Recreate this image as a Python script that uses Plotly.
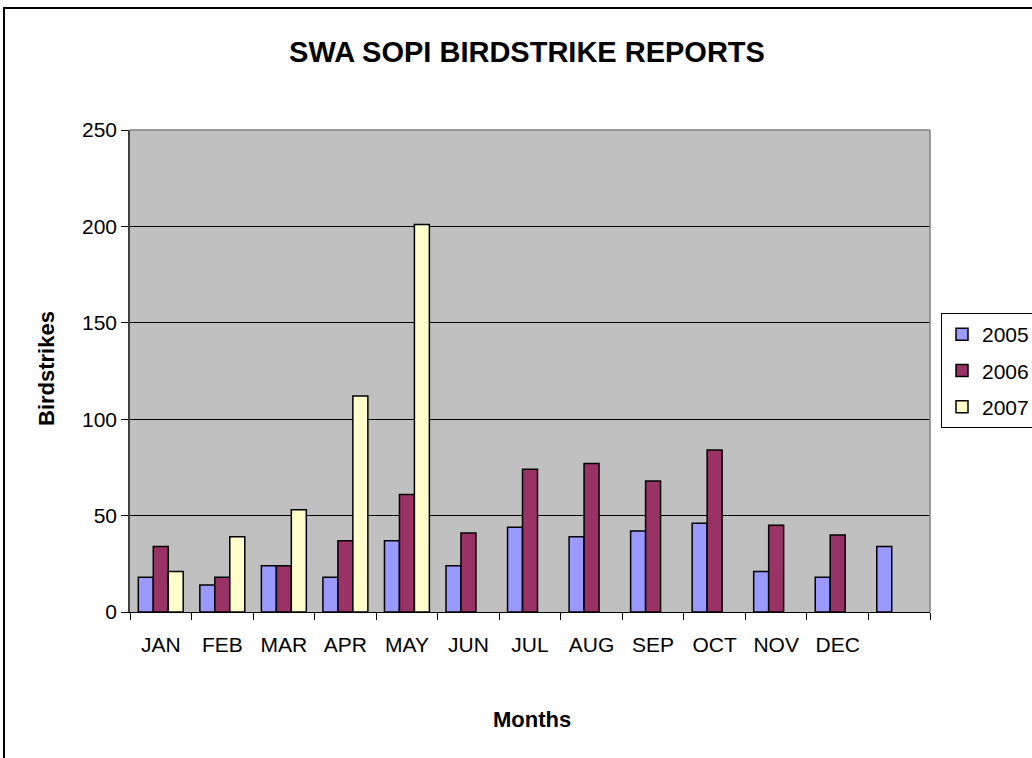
import plotly.graph_objects as go

months = ["JAN", "FEB", "MAR", "APR", "MAY", "JUN", "JUL", "AUG", "SEP", "OCT", "NOV", "DEC", " "]
y2005 = [18, 14, 24, 18, 37, 24, 44, 39, 42, 46, 21, 18, 34]
y2006 = [34, 18, 24, 37, 61, 41, 74, 77, 68, 84, 45, 40, None]
y2007 = [21, 39, 53, 112, 201, None, None, None, None, None, None, None, None]
series_names = ["2005", "2006", "2007"]
series_colors = ["#9999FF", "#993366", "#FFFFCC"]

FONT = "Liberation Sans, Arial, sans-serif"

fig = go.Figure()
for name, vals, col in zip(series_names, [y2005, y2006, y2007], series_colors):
    fig.add_trace(go.Bar(
        x=months, y=vals, name=name, legendgroup=name,
        marker=dict(color=col, line=dict(color="black", width=1.5)),
    ))

L, R, T, B = 130, 102, 130, 146
W, H = 1032, 758
pw, ph = W - L - R, H - T - B

def px(x):
    return (x - L) / pw

def py(y):
    return (H - B - y) / ph

fig.update_layout(
    width=W, height=H,
    margin=dict(l=L, r=R, t=T, b=B, autoexpand=False),
    paper_bgcolor="white",
    plot_bgcolor="#C0C0C0",
    barmode="group",
    bargap=0.27,
    bargroupgap=0,
    font=dict(family=FONT, size=21, color="black"),
    title=dict(text="<b>SWA SOPI BIRDSTRIKE REPORTS</b>", x=px(527), xref="paper",
               xanchor="center", y=1 - 52 / H, yref="container", yanchor="middle",
               font=dict(family=FONT, size=29, color="black")),
    legend=dict(x=px(941), y=py(313), xanchor="left", yanchor="top",
                bgcolor="white", bordercolor="black", borderwidth=1,
                font=dict(family=FONT, size=21), tracegroupgap=6,
                itemwidth=30),
    showlegend=True,
)

fig.update_xaxes(
    type="category", showline=True, linecolor="black", linewidth=1,
    ticks="outside", tickson="boundaries", ticklen=7, tickcolor="black",
    tickfont=dict(family=FONT, size=21), ticklabelstandoff=14,
    showgrid=False,
)
fig.update_yaxes(
    range=[0, 250], dtick=50, showline=True, linecolor="#404040", linewidth=1.5,
    ticks="outside", ticklen=7, tickcolor="black",
    tickfont=dict(family=FONT, size=21),
    showgrid=True, gridcolor="black", gridwidth=1, zeroline=False,
)

# plot area border (top and right) in grey
fig.add_shape(type="line", xref="paper", yref="paper", x0=0, x1=1, y0=1, y1=1,
              line=dict(color="#808080", width=1.5))
fig.add_shape(type="line", xref="paper", yref="paper", x0=1, x1=1, y0=0, y1=1,
              line=dict(color="#808080", width=1.5))
# outer chart frame
fig.add_shape(type="rect", xref="paper", yref="paper",
              x0=px(4), x1=px(1100), y0=py(800), y1=py(8),
              line=dict(color="black", width=2), layer="below")

fig.add_annotation(text="<b>Birdstrikes</b>", xref="paper", yref="paper",
                   x=px(46), y=py(369), textangle=-90, showarrow=False,
                   xanchor="center", yanchor="middle",
                   font=dict(family=FONT, size=22))
fig.add_annotation(text="<b>Months</b>", xref="paper", yref="paper",
                   x=px(532), y=py(719), showarrow=False,
                   xanchor="center", yanchor="middle",
                   font=dict(family=FONT, size=22))

fig.write_html("out.html", config={"displayModeBar": False},
               post_script="document.body.style.margin='0';document.body.style.overflow='hidden';")
